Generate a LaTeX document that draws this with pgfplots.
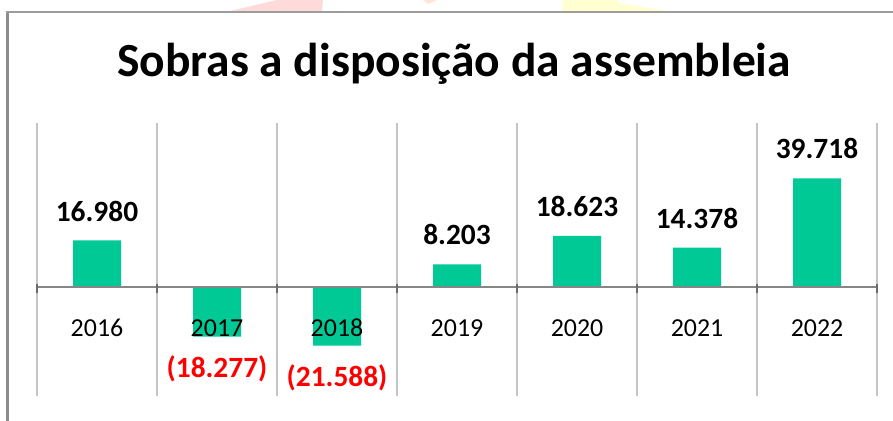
\documentclass[border=0pt]{standalone}
\usepackage{fontspec}
\setmainfont{Carlito}
\usepackage{pgfplots}
\pgfplotsset{compat=1.18}
\definecolor{barcol}{HTML}{00C996}
\definecolor{gridcol}{HTML}{C4C4C4}
\definecolor{zerocol}{HTML}{868686}
\definecolor{framecol}{HTML}{8C8C8C}
\definecolor{negred}{HTML}{FF0000}
\definecolor{decored}{HTML}{FFDADA}
\definecolor{decoyel}{HTML}{FFFFD2}
\definecolor{decoora}{HTML}{FFE6D6}
\tikzset{yrlbl/.style={anchor=base, inner sep=0pt, yshift=-50bp,
  font=\fontsize{26}{30}\selectfont, text=black}}
\begin{document}
\begin{tikzpicture}
\path[use as bounding box] (0,0) rectangle (893bp,421bp);
% faint slide decoration above the frame
\fill[decored] (230bp,410bp) -- (277bp,421bp) -- (323bp,421bp) -- (322bp,410bp) -- cycle;
\fill[decoora] (423bp,421bp) -- (437bp,421bp) -- (428bp,417bp) -- cycle;
\fill[decoyel] (562bp,410bp) -- (563bp,421bp) -- (618bp,421bp) -- (618bp,418bp) -- (667bp,410bp) -- cycle;
% frame
\draw[framecol, line width=2.5bp] (7.5bp,0) -- (7.5bp,410bp);
\draw[framecol!85, line width=2bp] (6bp,409bp) -- (893bp,409bp);
% title
\node[anchor=base, inner sep=0pt, font=\fontsize{47.7}{52}\selectfont\bfseries] at (454bp,344bp) {Sobras a disposição da assembleia};

\begin{axis}[
  scale only axis, width=840bp, height=273bp,
  at={(37bp,25bp)}, anchor=south west,
  xmin=-0.5, xmax=6.5, ymin=-40000, ymax=60000,
  axis line style={draw=none},
  xtick={-0.5,0.5,1.5,2.5,3.5,4.5,5.5,6.5}, xticklabels={},
  ytick=\empty, major tick length=0pt,
  xmajorgrids, major grid style={gridcol, line width=1.5bp},
  clip=false,
  ybar, bar width=48bp, bar shift=0pt,
  point meta=explicit symbolic,
  nodes near coords,
]
\addplot[fill=barcol, draw=none,
  every node near coord/.append style={anchor=south, inner sep=0pt, yshift=19bp,
    font=\fontsize{29.5}{32}\selectfont\bfseries, text=black}]
  coordinates {(0,16980) [16.980] (3,8203) [8.203] (4,18623) [18.623]
               (5,14378) [14.378] (6,39718) [39.718]};
\addplot[fill=barcol, draw=none,
  every node near coord/.append style={anchor=north, inner sep=0pt, yshift=-19bp,
    font=\fontsize{29.5}{32}\selectfont\bfseries, text=negred}]
  coordinates {(1,-18277) [(18.277)] (2,-21588) [(21.588)]};
\draw[zerocol, line width=2bp] (axis cs:-0.5,0) -- (axis cs:6.5,0);
\pgfplotsinvokeforeach{-0.5,0.5,1.5,2.5,3.5,4.5,5.5,6.5}{
  \draw[zerocol!80!black, line width=1.5bp] ([yshift=3bp]axis cs:#1,0) -- ([yshift=-6bp]axis cs:#1,0);
}
\node[yrlbl] at (axis cs:0,0) {2016};
\node[yrlbl] at (axis cs:1,0) {2017};
\node[yrlbl] at (axis cs:2,0) {2018};
\node[yrlbl] at (axis cs:3,0) {2019};
\node[yrlbl] at (axis cs:4,0) {2020};
\node[yrlbl] at (axis cs:5,0) {2021};
\node[yrlbl] at (axis cs:6,0) {2022};
\end{axis}
\end{tikzpicture}
\end{document}
